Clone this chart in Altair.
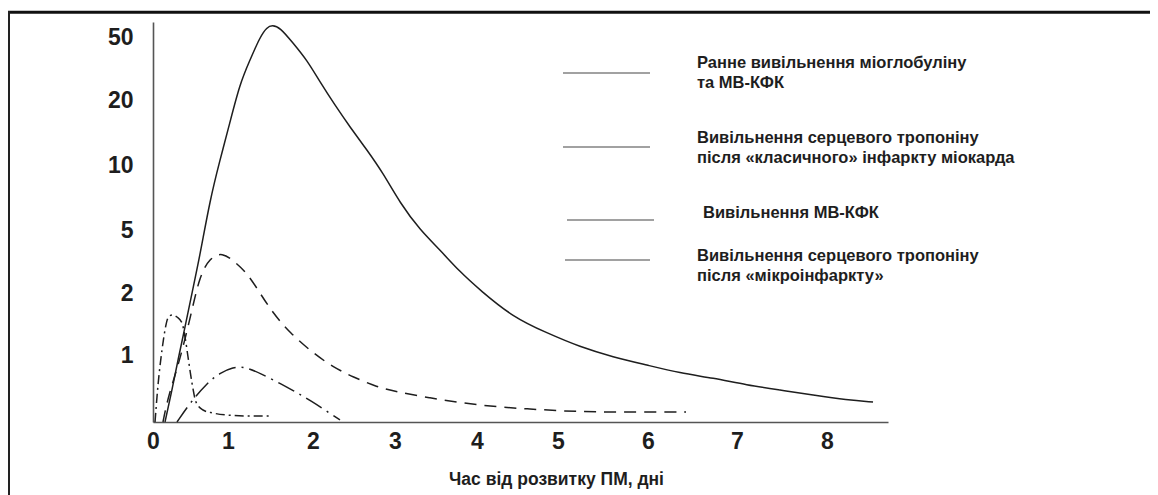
import altair as alt
import pandas as pd

# ---- data (x = days, y = relative level) ----
solid_t = [0.16, 0.253, 0.333, 0.427, 0.52, 0.627, 0.76, 0.893, 1.0, 1.141, 1.259, 1.376,
           1.459, 1.518, 1.612, 1.765, 1.929, 2.085, 2.268, 2.451, 2.659, 2.854, 3.061,
           3.305, 3.549, 3.793, 4.037, 4.444, 4.864, 5.244, 5.611, 5.989, 6.36, 6.73,
           7.11, 7.478, 7.844, 8.223, 8.513]
solid_v = [0.0, 0.478, 0.925, 1.452, 2.0, 3.81, 7.31, 10.77, 15.38, 28.1, 39.0, 50.0,
           54.6, 55.6, 54.6, 47.1, 39.0, 28.6, 19.2, 15.85, 12.3, 9.38, 7.08,
           5.0, 4.05, 3.0, 2.14, 1.61, 1.355, 1.13, 0.97, 0.85, 0.73, 0.657,
           0.552, 0.478, 0.403, 0.328, 0.299]

dash_t = [0.133, 0.2, 0.36, 0.52, 0.627, 0.76, 0.92, 1.082, 1.224, 1.376, 1.529, 1.729,
          2.0, 2.244, 2.488, 2.78, 3.024, 3.427, 3.829, 4.247, 4.654, 5.056, 5.433,
          5.911, 6.427]
dash_v = [0.0, 0.373, 0.925, 1.726, 2.857, 3.667, 3.95, 3.476, 2.952, 2.0, 1.677, 1.355,
          1.032, 0.821, 0.672, 0.522, 0.448, 0.358, 0.284, 0.224, 0.194, 0.164, 0.149,
          0.149, 0.149]

spike_t = [0.027, 0.067, 0.12, 0.16, 0.2, 0.253, 0.32, 0.387, 0.427, 0.467, 0.52, 0.573,
           0.667, 0.8, 0.987, 1.259, 1.494]
spike_v = [0.0, 0.552, 1.081, 1.403, 1.597, 1.645, 1.613, 1.516, 1.29, 0.97, 0.582, 0.299,
           0.179, 0.134, 0.104, 0.09, 0.09]

hump_t = [0.32, 0.493, 0.72, 0.893, 1.059, 1.2, 1.376, 1.694, 1.965, 2.329]
hump_v = [0.0, 0.284, 0.582, 0.731, 0.821, 0.821, 0.731, 0.522, 0.328, 0.03]

x_ticks = [0, 1, 2, 3, 4, 5, 6, 7, 8]
y_ticks = [1, 2, 5, 10, 20, 50]

legend_rows = [
    ["Ранне вивільнення міоглобуліну", "та  МВ-КФК"],
    ["Вивільнення серцевого тропоніну", "після «класичного» інфаркту міокарда"],
    ["Вивільнення МВ-КФК"],
    ["Вивільнення серцевого тропоніну", "після «мікроінфаркту»"],
]
x_title = "Час від розвитку ПМ, дні"

FONT = "Liberation Sans"
INK = "#1e1e1e"

# hand-drawn, uneven axes of the original -> piecewise scales
xscale = alt.Scale(domain=[0, 1, 2, 3, 4, 5, 6, 7, 8, 8.68],
                   range=[0, 75, 160, 242, 324, 405, 495, 584, 674, 735],
                   nice=False, zero=False)
yscale = alt.Scale(domain=[0, 1, 2, 5, 10, 20, 50, 57.1],
                   range=[400, 333, 271, 208, 143, 78, 15, 0],
                   nice=False, zero=False)

xaxis = alt.Axis(values=x_ticks, ticks=False, grid=False, domainColor="#555",
                 domainWidth=1.6, labelFont=FONT, labelFontWeight="bold",
                 labelFontSize=23, labelColor=INK, labelPadding=8,
                 labelFlush=False, labelOverlap=False,
                 title=x_title, titleFont=FONT, titleFontWeight="bold",
                 titleFontSize=17.5, titleColor=INK, titleX=403, titleY=57,
                 titleBaseline="middle")
yaxis = alt.Axis(values=y_ticks, ticks=False, grid=False, domainColor="#555",
                 domainWidth=1.6, labelFont=FONT, labelFontWeight="bold",
                 labelFontSize=23, labelColor=INK, labelPadding=20,
                 labelFlush=False, labelOverlap=False, title=None)


def curve(ts, vs, dash, interp):
    df = pd.DataFrame({"t": ts, "v": vs})
    kw = dict(color=INK, strokeWidth=1.5, interpolate=interp)
    if dash:
        kw["strokeDash"] = dash
    return alt.Chart(df).mark_line(**kw).encode(
        x=alt.X("t:Q", scale=xscale, axis=xaxis),
        y=alt.Y("v:Q", scale=yscale, axis=yaxis),
    )


layers = [
    curve(solid_t, solid_v, None, "basis"),
    curve(dash_t, dash_v, [12, 8], "basis"),
    curve(spike_t, spike_v, [9, 4, 2, 4], "monotone"),
    curve(hump_t, hump_v, [18, 6, 2, 6], "basis"),
]

# legend (drawn as in the original: short thin lines with text beside them)
leg_lines = [(410, 497, 51), (410, 497, 125), (414, 501, 198), (412, 497, 238)]
leg_text_pos = [(544, [41, 61]), (544, [116, 136]), (550, [191]), (544, [234, 254])]
for (x1, x2, yy) in leg_lines:
    layers.append(alt.Chart(pd.DataFrame({"a": [0]})).mark_rule(
        color="#444", strokeWidth=1.1).encode(
        x=alt.value(x1), x2=alt.value(x2), y=alt.value(yy)))
for (tx, tys), rows in zip(leg_text_pos, legend_rows):
    for ty, row in zip(tys, rows):
        layers.append(alt.Chart(pd.DataFrame({"a": [0]})).mark_text(
            align="left", baseline="middle", font=FONT, fontWeight="bold",
            fontSize=16.5, color=INK).encode(
            x=alt.value(tx), y=alt.value(ty), text=alt.value(row)))

# frame of the original figure (top and left edges)
layers.append(alt.Chart(pd.DataFrame({"a": [0]})).mark_rule(
    color="#111", strokeWidth=3).encode(
    x=alt.value(-145), x2=alt.value(997), y=alt.value(-9.7)))
layers.append(alt.Chart(pd.DataFrame({"a": [0]})).mark_rule(
    color="#222", strokeWidth=2).encode(
    x=alt.value(-144), y=alt.value(-11), y2=alt.value(473)))

chart = alt.layer(*layers).properties(
    width=735, height=400,
    autosize=alt.AutoSizeParams(type="none"),
    padding={"left": 145, "top": 14, "right": 262, "bottom": 73},
    background="white",
).configure_view(stroke=None)

chart.save("out.html", embed_options={"renderer": "svg", "actions": False})
